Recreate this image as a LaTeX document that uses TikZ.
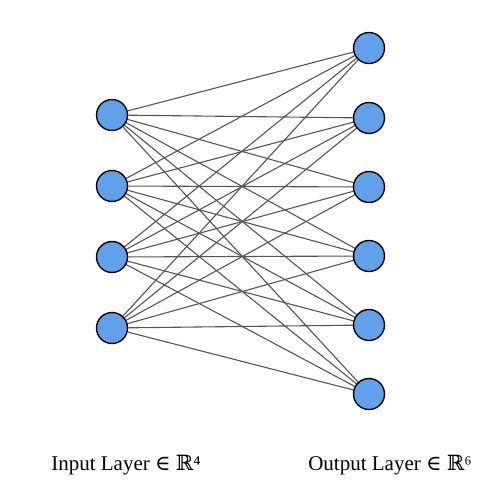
\documentclass[tikz,border=0pt]{standalone}
\usepackage{fontspec}
\setmainfont{Liberation Serif}
\newfontfamily\symfont{DejaVu Serif}
\usetikzlibrary{backgrounds}
\begin{document}
\begin{tikzpicture}[x=1bp,y=-1bp,
  neuron/.style={circle,draw=black,line width=1.4bp,fill=nfill,minimum size=31bp,inner sep=0pt},
  conn/.style={draw=lgray,line width=1.1bp},
  lbl/.style={font=\fontsize{21bp}{25bp}\selectfont,anchor=base,inner sep=0pt}]
\definecolor{nfill}{RGB}{99,160,234}
\definecolor{lgray}{RGB}{85,85,85}
\useasboundingbox (0,0) rectangle (500,501);
\foreach \i/\y in {1/115,2/186,3/257,4/328} \node[neuron] (i\i) at (112,\y) {};
\foreach \j/\y in {1/48,2/118,3/187,4/256,5/325,6/394} \node[neuron] (o\j) at (369,\y) {};
\begin{scope}[on background layer]
\foreach \i in {1,...,4} \foreach \j in {1,...,6} \draw[conn] (i\i.center) -- (o\j.center);
\end{scope}
\node[lbl] (inl) at (126,470) {Input Layer {\symfont ∈} {\symfont ℝ}⁴};
\node[lbl] (outl) at (390,470) {Output Layer {\symfont ∈} {\symfont ℝ}⁶};
\end{tikzpicture}
\end{document}
